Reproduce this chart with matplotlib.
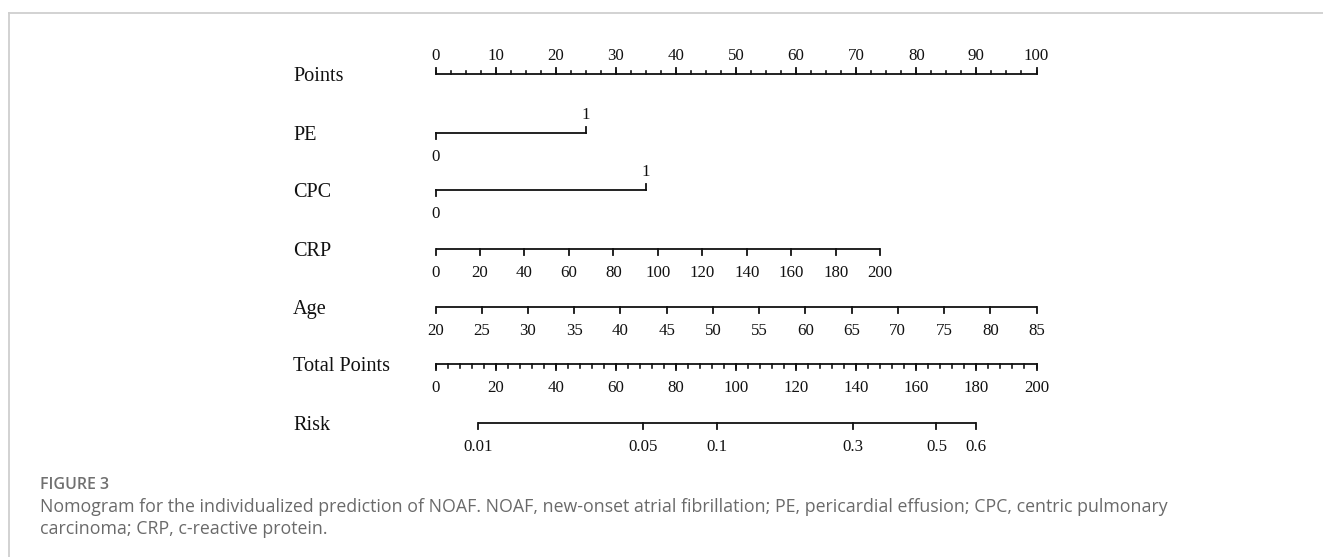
import numpy as np
import matplotlib.pyplot as plt
from matplotlib.lines import Line2D

# nomogram scales (values and the points they map to)
points_ticks = np.arange(0, 101, 10)
points_minor = np.arange(0, 100.1, 2.5)

pe_levels = ['0', '1']
pe_points = [0, 25]

cpc_levels = ['0', '1']
cpc_points = [0, 35]

crp_values = np.arange(0, 201, 20)
crp_max_points = 74          # points given to CRP = 200

age_values = np.arange(20, 86, 5)
age_range = (20, 85)         # age 20 -> 0 points, 85 -> 100 points

total_ticks = np.arange(0, 201, 20)
total_minor = np.arange(0, 200.1, 4)

risk_values = ['0.01', '0.05', '0.1', '0.3', '0.5', '0.6']
risk_total_points = [14.3, 69.2, 93.8, 138.8, 166.7, 180.0]

row_names = ['Points', 'PE', 'CPC', 'CRP', 'Age', 'Total Points', 'Risk']
row_y = [74, 133, 190, 249, 307, 364, 423]   # pixel rows of the axis lines

caption_head = 'FIGURE 3'
caption_lines = [
    'Nomogram for the individualized prediction of NOAF. NOAF, new-onset atrial fibrillation; '
    'PE, pericardial effusion; CPC, centric pulmonary',
    'carcinoma; CRP, c-reactive protein.',
]

# figure in pixel units: x in "points", y in pixel rows
W, H = 1323, 557
fig = plt.figure(figsize=(W / 100, H / 100), dpi=100)
ax = fig.add_axes([0, 0, 1, 1])
x0_px, x100_px = 435.5, 1036.5
ppp = (x100_px - x0_px) / 100
ax.set_xlim(-x0_px / ppp, (W - x0_px) / ppp)
ax.set_ylim(H, 0)
ax.axis('off')

serif = 'Liberation Serif'
ink = '#111111'
lw = 1.3
tick_fs = 12.2
name_fs = 14.6


def scale(y, pos, labels, up=False, minor=None, major_len=6, minor_len=3,
          label_up=None):
    pos = np.asarray(pos, dtype=float)
    ax.plot([pos.min(), pos.max()], [y, y], color=ink, lw=lw,
            solid_capstyle='butt')
    d = -1 if up else 1
    if minor is not None:
        for p in minor:
            ax.plot([p, p], [y, y + d * minor_len], color=ink, lw=lw * 0.9)
    for p in pos:
        ax.plot([p, p], [y, y + d * major_len], color=ink, lw=lw)
    if label_up is None:
        label_up = [up] * len(pos)
    for p, lab, lu in zip(pos, labels, label_up):
        ax.text(p, y - 14 if lu else y + 28, lab, ha='center', va='baseline',
                fontsize=tick_fs, family=serif, color=ink)


# Points
scale(row_y[0], points_ticks, [str(v) for v in points_ticks], up=True,
      minor=points_minor, major_len=6, minor_len=3)

# PE and CPC: 0 tick down / label below, 1 tick up / label above
for y, pts, levs in [(row_y[1], pe_points, pe_levels),
                     (row_y[2], cpc_points, cpc_levels)]:
    ax.plot([pts[0], pts[1]], [y, y], color=ink, lw=lw)
    ax.plot([pts[0], pts[0]], [y, y + 6], color=ink, lw=lw)
    ax.plot([pts[1], pts[1]], [y, y - 6], color=ink, lw=lw)
    ax.text(pts[0], y + 28, levs[0], ha='center', va='baseline',
            fontsize=tick_fs, family=serif, color=ink)
    ax.text(pts[1], y - 14, levs[1], ha='center', va='baseline',
            fontsize=tick_fs, family=serif, color=ink)

# CRP
crp_points = np.interp(crp_values, [0, 200], [0, crp_max_points])
scale(row_y[3], crp_points, [str(v) for v in crp_values])

# Age
age_points = np.interp(age_values, age_range, [0, 100])
scale(row_y[4], age_points, [str(v) for v in age_values])

# Total Points (0-200 drawn on the 0-100 points width)
scale(row_y[5], total_ticks / 2, [str(v) for v in total_ticks],
      minor=total_minor / 2, major_len=6, minor_len=3.5)

# Risk
scale(row_y[6], np.array(risk_total_points) / 2, risk_values)

# row names
name_x = (293 - x0_px) / ppp
for name, y in zip(row_names, row_y):
    ax.text(name_x, y + 7, name, ha='left', va='baseline', fontsize=name_fs,
            family=serif, color=ink)

# frame lines of the figure panel
border = '#cfcfcf'
fig.add_artist(Line2D([9 / W, 1], [1 - 13 / H, 1 - 13 / H], color=border,
                      lw=1.3, transform=fig.transFigure))
fig.add_artist(Line2D([9 / W, 9 / W], [0, 1 - 13 / H], color=border,
                      lw=1.3, transform=fig.transFigure))

# caption
cap_font = ['Open Sans', 'DejaVu Sans']
fig.text(40 / W, 1 - 485 / H, caption_head, ha='left', va='center',
         fontsize=11.5, family=cap_font, color='#707070', fontweight='semibold')
for i, line in enumerate(caption_lines):
    fig.text(40 / W, 1 - (507 + 22 * i) / H, line, ha='left', va='center',
             fontsize=12.8, family=cap_font, color='#6a6a6a')

fig.savefig('out.png', dpi=100)
